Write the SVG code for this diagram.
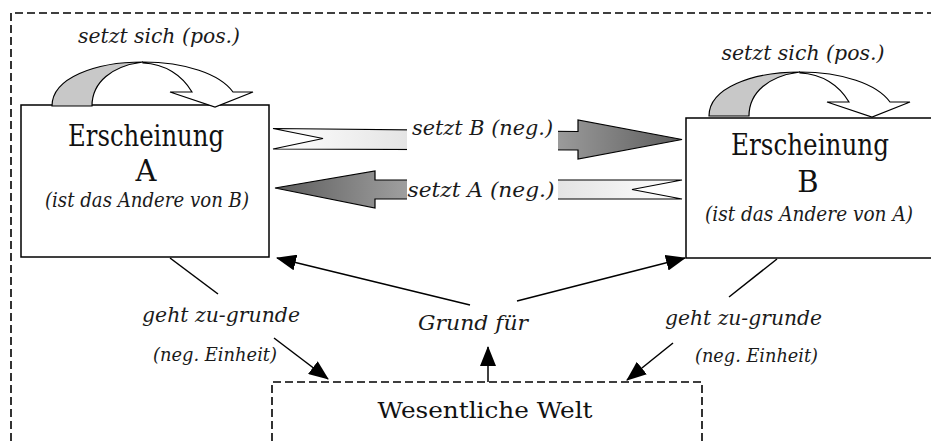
<svg xmlns="http://www.w3.org/2000/svg" width="931" height="441" viewBox="0 0 931 441">
  <style>
    .frame { fill: none; stroke: #000; stroke-width: 1.6; stroke-dasharray: 8 4; }
    .box { fill: #fff; stroke: #000; stroke-width: 1.5; }
    .line { fill: none; stroke: #000; stroke-width: 1.5; }
    .shape { stroke: #000; stroke-width: 1.2; stroke-linejoin: miter; }
    .title { font-size: 29px; fill: #111; text-anchor: middle; }
    .lbl { font-style: italic; font-size: 21px; fill: #1a1a1a; text-anchor: middle; }
    .sub { font-style: italic; font-size: 20px; fill: #1a1a1a; text-anchor: middle; }
    .small { font-style: italic; font-size: 19px; fill: #1a1a1a; text-anchor: middle; }
    .world { font-size: 23px; fill: #111; text-anchor: middle; }
  </style>
  <defs>
    <marker id="head" markerUnits="userSpaceOnUse" markerWidth="20" markerHeight="16" viewBox="0 0 20 16" refX="19" refY="8" orient="auto">
      <path d="M0,0 L20,8 L0,16 Z" fill="#000"/>
    </marker>
    <linearGradient id="gradRight" gradientUnits="userSpaceOnUse" x1="273" y1="0" x2="682" y2="0">
      <stop offset="0" stop-color="#ffffff"/>
      <stop offset="0.33" stop-color="#e4e4e4"/>
      <stop offset="0.7" stop-color="#9a9a9a"/>
      <stop offset="1" stop-color="#5c5c5c"/>
    </linearGradient>
    <linearGradient id="gradLeft" gradientUnits="userSpaceOnUse" x1="682" y1="0" x2="275" y2="0">
      <stop offset="0" stop-color="#ffffff"/>
      <stop offset="0.3" stop-color="#e4e4e4"/>
      <stop offset="0.7" stop-color="#9a9a9a"/>
      <stop offset="1" stop-color="#5c5c5c"/>
    </linearGradient>
    <!-- self-positing loop arrow, drawn once and reused -->
    <g id="loop">
      <path class="shape" fill="#c8c8c8" d="M52,106 C52,78 95,62 143,62 C112,66 92,82 92,106 Z"/>
      <path class="shape" fill="#fff" d="M143,62 C185,62 220,74 233,92 L253,92 L215,107 L170,92 L192,92 C182,75 165,64 143,63 Z"/>
    </g>
  </defs>

  <rect width="931" height="441" fill="#fff"/>

  <!-- outer dashed frame -->
  <path class="frame" d="M11,441 V13 H931"/>

  <g font-family="DejaVu Serif, Liberation Serif, serif">
  <!-- Erscheinung A -->
  <g id="node-a">
    <rect class="box" x="21" y="105" width="248" height="152"/>
    <use href="#loop"/>
    <text class="lbl" x="159" y="43" textLength="162" lengthAdjust="spacingAndGlyphs">setzt sich (pos.)</text>
    <text class="title" x="146" y="146" textLength="156" lengthAdjust="spacingAndGlyphs">Erscheinung</text>
    <text class="title" x="146" y="181">A</text>
    <text class="sub" x="147" y="207" textLength="204" lengthAdjust="spacingAndGlyphs">(ist das Andere von B)</text>
  </g>

  <!-- Erscheinung B -->
  <g id="node-b">
    <rect class="box" x="686" y="118" width="260" height="140"/>
    <use href="#loop" transform="translate(657,10)"/>
    <text class="lbl" x="803" y="60" textLength="163" lengthAdjust="spacingAndGlyphs">setzt sich (pos.)</text>
    <text class="title" x="810" y="155" textLength="158" lengthAdjust="spacingAndGlyphs">Erscheinung</text>
    <text class="title" x="808" y="192">B</text>
    <text class="sub" x="809" y="221" textLength="208" lengthAdjust="spacingAndGlyphs">(ist das Andere von A)</text>
  </g>

  <!-- Wesentliche Welt -->
  <g id="node-welt">
    <path class="frame" d="M272,441 V382 H702 V441"/>
    <text class="world" x="485" y="418" textLength="215" lengthAdjust="spacingAndGlyphs">Wesentliche Welt</text>
  </g>

  <g id="connectors">
    <!-- A negates B -->
    <polygon class="shape" fill="url(#gradRight)" points="273,128.5 578,131.5 578,120 682,139.5 578,159 578,150 273,149 323,138.5"/>
    <rect x="407" y="116" width="151" height="38" fill="#fff"/>
    <text class="lbl" x="482.5" y="135" textLength="141" lengthAdjust="spacingAndGlyphs">setzt B (neg.)</text>

    <!-- B negates A -->
    <polygon class="shape" fill="url(#gradLeft)" points="275,188 375,171 375,180 682,180 632,189.5 682,199 375,199 375,208"/>
    <rect x="407" y="176" width="151" height="36" fill="#fff"/>
    <text class="lbl" x="481" y="197" textLength="147" lengthAdjust="spacingAndGlyphs">setzt A (neg.)</text>

    <!-- A perishes into the essential world -->
    <line class="line" x1="170" y1="258" x2="218" y2="294"/>
    <text class="lbl" x="221" y="322" textLength="158" lengthAdjust="spacingAndGlyphs">geht zu-grunde</text>
    <text class="small" x="215" y="361" textLength="124" lengthAdjust="spacingAndGlyphs">(neg. Einheit)</text>
    <line class="line" x1="274" y1="338" x2="328" y2="379" marker-end="url(#head)"/>

    <!-- B perishes into the essential world -->
    <line class="line" x1="777" y1="259" x2="729" y2="297"/>
    <text class="lbl" x="743.5" y="325" textLength="157" lengthAdjust="spacingAndGlyphs">geht zu-grunde</text>
    <text class="small" x="756.5" y="362" textLength="123" lengthAdjust="spacingAndGlyphs">(neg. Einheit)</text>
    <line class="line" x1="673" y1="343" x2="627" y2="380" marker-end="url(#head)"/>

    <!-- the essential world grounds both -->
    <text class="lbl" x="473" y="330" textLength="110" lengthAdjust="spacingAndGlyphs">Grund für</text>
    <line class="line" x1="488" y1="382" x2="488" y2="347" marker-end="url(#head)"/>
    <line class="line" x1="470" y1="305" x2="277" y2="258" marker-end="url(#head)"/>
    <line class="line" x1="517" y1="301" x2="685" y2="258" marker-end="url(#head)"/>
  </g>
  </g>
</svg>
